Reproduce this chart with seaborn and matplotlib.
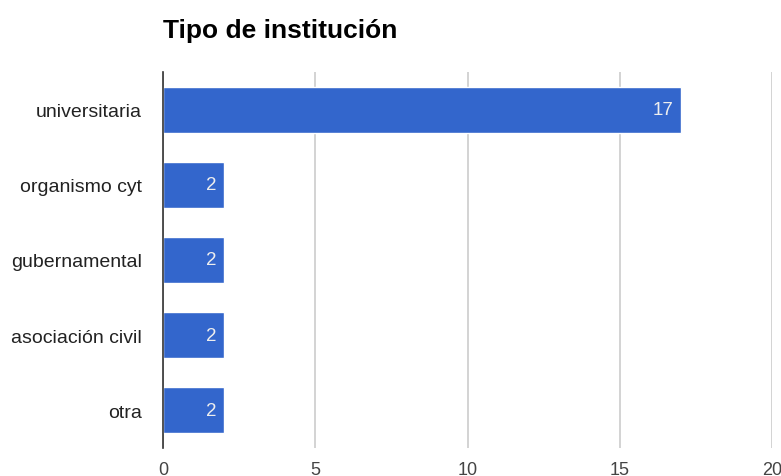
import pandas as pd
import matplotlib.pyplot as plt
import seaborn as sns

# Data
categories = ["universitaria", "organismo cyt", "gubernamental", "asociación civil", "otra"]
counts = [17, 2, 2, 2, 2]
x_ticks = [0, 5, 10, 15, 20]

df = pd.DataFrame({"tipo": categories, "cantidad": counts})

sns.set_style("white")
plt.rcParams["font.family"] = ["Liberation Sans", "DejaVu Sans"]

fig = plt.figure(figsize=(7.81, 4.77), dpi=100)
ax = fig.add_axes([0.2087, 0.0587, 0.7798, 0.7883])

sns.barplot(data=df, x="cantidad", y="tipo", orient="h", color="#3366CC",
            saturation=1, width=0.61, ax=ax, zorder=3)

# value labels inside the bars, right-aligned near the bar end
for container in ax.containers:
    texts = ax.bar_label(container, labels=[str(v) for v in counts], padding=-5.5,
                         color="#eeeeee", fontsize=13.5)
    for t in texts:
        t.set_ha("right")

ax.set_xlim(0, 20)
ax.set_xticks(x_ticks)
ax.set_xticklabels([str(t) for t in x_ticks])
ax.set_ylim(4.5, -0.5)
ax.set_xlabel("")
ax.set_ylabel("")

ax.grid(axis="x", color="#cccccc", linewidth=1.2, zorder=0)
for s in ["top", "right", "bottom"]:
    ax.spines[s].set_visible(False)
ax.spines["left"].set_color("#333333")
ax.spines["left"].set_linewidth(1.2)
ax.spines["left"].set_zorder(4)

ax.tick_params(axis="x", labelsize=13, colors="#444444", length=0, pad=9)
ax.tick_params(axis="y", labelsize=14, colors="#222222", length=0, pad=15)

fig.text(0.2087, 0.935, "Tipo de institución", fontsize=19, fontweight="bold",
         color="#000000", ha="left", va="center")

plt.savefig("out.png", dpi=100)
plt.close()
